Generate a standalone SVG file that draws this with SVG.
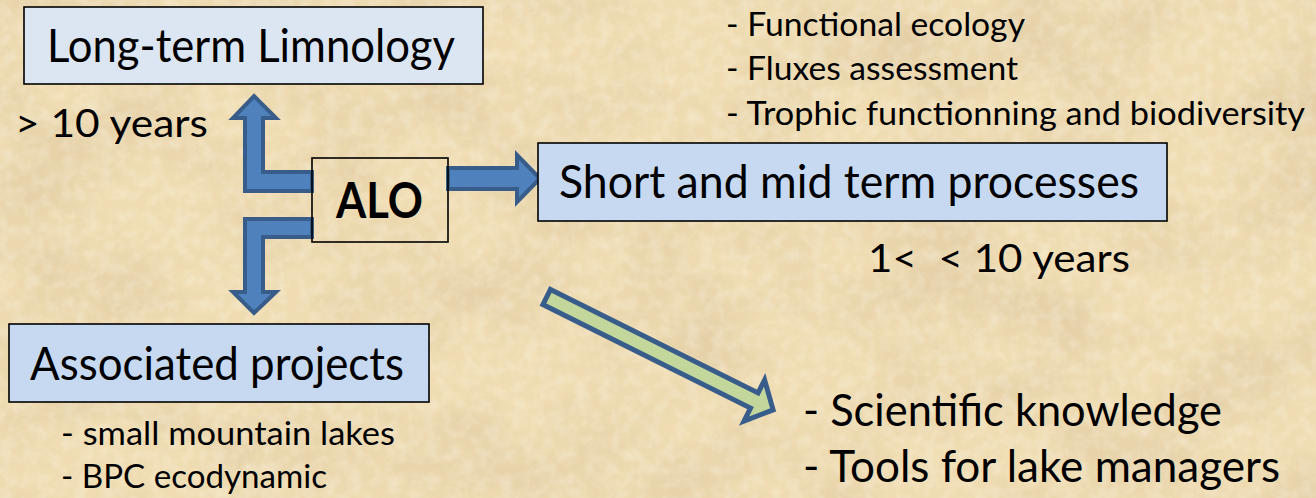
<svg xmlns="http://www.w3.org/2000/svg" width="1316" height="498" viewBox="0 0 1316 498">
<defs>
<filter id="parch" x="0" y="0" width="100%" height="100%" filterUnits="userSpaceOnUse">
<feTurbulence type="fractalNoise" baseFrequency="0.008 0.012" numOctaves="5" seed="7" result="n"/>
<feColorMatrix in="n" type="matrix" values="0 0 0 0 0.70  0 0 0 0 0.55  0 0 0 0 0.34  1.1 0 0 0 -0.42"/>
</filter>
<filter id="grain" x="0" y="0" width="100%" height="100%" filterUnits="userSpaceOnUse">
<feTurbulence type="fractalNoise" baseFrequency="0.08" numOctaves="3" seed="2" result="g"/>
<feColorMatrix in="g" type="matrix" values="0 0 0 0 1  0 0 0 0 0.97  0 0 0 0 0.88  0 0 0 -1.2 0.75"/>
</filter>
</defs>
<style>
text{font-family:Lato,"Open Sans","Liberation Sans",sans-serif;fill:#000;white-space:pre}
.title{font-size:46px}
.sub{font-size:38px}
.item{font-size:32px}
.big{font-size:45px}
.box{stroke:#000;stroke-width:1.6}
.light{fill:#dce6f2}
.blue{fill:#c6d9f1}
.arrow{fill:#4f81bd;stroke:#385d8a;stroke-width:4;stroke-linejoin:miter}
.garrow{fill:#c3d69b;stroke:#385d8a;stroke-width:5;stroke-linejoin:miter}
</style>
<rect width="1316" height="498" fill="#efdcb2"/>
<rect width="1316" height="498" filter="url(#parch)"/>
<rect width="1316" height="498" filter="url(#grain)" opacity="0.5"/>

<g id="connectors">
<path class="arrow" d="M312,172 H263 V118 H276 L254,96 L233,118 H245 V191 H312 Z"/>
<path class="arrow" d="M312,219 H245 V292 H233 L254,313 L276,292 H263 V237 H312 Z"/>
<path class="arrow" d="M448,168 H517 V155 L540,178.5 L517,202 V189 H448 Z"/>
<path class="garrow" transform="translate(546.7,297) rotate(26.5)" d="M0,-8.5 L232,-8.5 L232,-23 L253,0 L232,23 L232,8.5 L0,8.5 Z"/>
</g>

<g id="long-term">
<rect class="box light" x="24" y="7" width="459" height="77"/>
<text class="title" x="47" y="62" textLength="408" lengthAdjust="spacingAndGlyphs">Long-term Limnology</text>
</g>
<g id="long-term-label">
<text class="sub" x="15" y="137" textLength="193" lengthAdjust="spacingAndGlyphs">&gt; 10 years</text>
</g>

<g id="alo">
<rect class="box" x="312" y="158" width="136" height="84" fill="none"/>
<text x="336" y="218" style="font-size:50px;font-weight:bold" textLength="87" lengthAdjust="spacingAndGlyphs">ALO</text>
</g>

<g id="short-mid">
<rect class="box blue" x="538" y="143" width="629" height="78"/>
<text class="title" x="559" y="198" textLength="580" lengthAdjust="spacingAndGlyphs">Short and mid term processes</text>
</g>
<g id="short-mid-label">
<text class="sub" x="868" y="272" textLength="262" lengthAdjust="spacingAndGlyphs">1&lt;  &lt; 10 years</text>
</g>

<g id="short-mid-topics">
<text class="item" x="726" y="36" textLength="299" lengthAdjust="spacingAndGlyphs">- Functional ecology</text>
<text class="item" x="726" y="80" textLength="292" lengthAdjust="spacingAndGlyphs">- Fluxes assessment</text>
<text class="item" x="726" y="125" textLength="579" lengthAdjust="spacingAndGlyphs">- Trophic functionning and biodiversity</text>
</g>

<g id="associated">
<rect class="box blue" x="9" y="324" width="420" height="78"/>
<text class="title" x="30" y="380" textLength="374" lengthAdjust="spacingAndGlyphs">Associated projects</text>
</g>
<g id="associated-topics">
<text class="item" x="61" y="445" textLength="334" lengthAdjust="spacingAndGlyphs">- small mountain lakes</text>
<text class="item" x="61" y="488" textLength="266" lengthAdjust="spacingAndGlyphs">- BPC ecodynamic</text>
</g>

<g id="outcomes">
<text class="big" x="803" y="426" textLength="419" lengthAdjust="spacingAndGlyphs">- Scientific knowledge</text>
<text class="big" x="803" y="482" textLength="477" lengthAdjust="spacingAndGlyphs">- Tools for lake managers</text>
</g>
</svg>
